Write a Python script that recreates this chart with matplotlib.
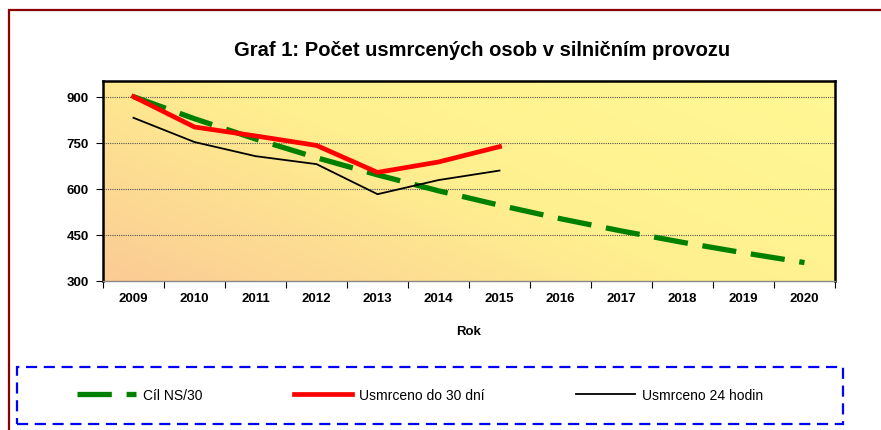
import numpy as np
import matplotlib
matplotlib.use("Agg")
import matplotlib.pyplot as plt
from matplotlib.patches import Rectangle
from matplotlib.colors import LinearSegmentedColormap

plt.rcParams['font.family'] = ['Liberation Sans', 'DejaVu Sans']

years = ['2009', '2010', '2011', '2012', '2013', '2014', '2015',
         '2016', '2017', '2018', '2019', '2020']
cil_ns30 = [901, 829, 763, 702, 646, 594, 547, 503, 463, 426, 392, 360]
usmrceno_30 = [901, 802, 773, 742, 654, 688, 738]
usmrceno_24 = [832, 753, 707, 681, 583, 629, 660]

W, H = 881, 431
fig = plt.figure(figsize=(W / 100, H / 100), dpi=100)

# outer dark red frame (runs past the right and bottom edges)
fig.patches.append(Rectangle((9 / W, -0.1), 1.2, 1 - 11 / H + 0.1, transform=fig.transFigure,
                             fill=False, edgecolor='#8B0000', lw=1.6))

ax = fig.add_axes([103 / W, 1 - 282 / H, (835 - 103) / W, (282 - 82) / H])

# gradient background: peach bottom-left -> yellow top-right
xx, yy = np.meshgrid(np.linspace(0, 1, 200), np.linspace(0, 1, 200))
grad = (xx * 0.6 + yy * 0.4)
cmap = LinearSegmentedColormap.from_list('bg', ['#FBCB95', '#FFF08F', '#FFF894'])
ax.imshow(grad, extent=[0, 1, 0, 1], origin='lower', cmap=cmap, aspect='auto',
          transform=ax.transAxes, zorder=0)

x = np.arange(len(years))
ax.plot(x, cil_ns30, color='#008000', lw=3.8, dashes=(6.5, 2.8), zorder=3, label='Cíl NS/30')
ax.plot(x[:len(usmrceno_30)], usmrceno_30, color='#FF0000', lw=3.4, zorder=4,
        label='Usmrceno do 30 dní')
ax.plot(x[:len(usmrceno_24)], usmrceno_24, color='black', lw=1.3, zorder=5,
        label='Usmrceno 24 hodin')

ax.set_xlim(-0.5, len(years) - 0.5)
ax.set_ylim(300, 952)
ax.set_yticks([300, 450, 600, 750, 900])
ax.set_yticklabels(['300', '450', '600', '750', '900'], fontweight='bold', fontsize=9.5)
ax.set_xticks(x)
ax.set_xticklabels(years, fontweight='bold', fontsize=9.5)
ax.set_xticks(np.arange(-0.5, len(years), 1), minor=True)
ax.tick_params(axis='x', which='major', length=0, pad=8)
ax.tick_params(axis='x', which='minor', length=5, width=0.8, direction='out')
ax.tick_params(axis='y', length=5, width=0.8, direction='out', pad=5)

for v in [450, 600, 750, 900]:
    ax.axhline(v, color='#555555', lw=0.8, ls=(0, (1, 1)), zorder=1)

for s in ax.spines.values():
    s.set_linewidth(1.8)
ax.spines['bottom'].set_linewidth(1.0)
ax.spines['bottom'].set_color('#888888')

fig.text(482 / W, 1 - 50 / H, 'Graf 1: Počet usmrcených osob v silničním provozu',
         ha='center', va='center', fontsize=14.5, fontweight='bold')
fig.text(469 / W, 1 - 332 / H, 'Rok', ha='center', va='center', fontsize=9.5,
         fontweight='bold')

# legend box with blue dashed frame
fig.patches.append(Rectangle((17 / W, 1 - 425 / H), (843 - 17) / W, (425 - 368) / H,
                             transform=fig.transFigure, fill=False, edgecolor='#0000FF',
                             lw=1.6, ls=(0, (5, 3))))
handles, labels = ax.get_legend_handles_labels()
leg = fig.legend(handles, labels, loc='center', bbox_to_anchor=(420 / W, 1 - 396 / H),
                 ncol=3, frameon=False, fontsize=10, handlelength=4.2,
                 columnspacing=6.6, handletextpad=0.5)

fig.savefig('out.png', dpi=100)
